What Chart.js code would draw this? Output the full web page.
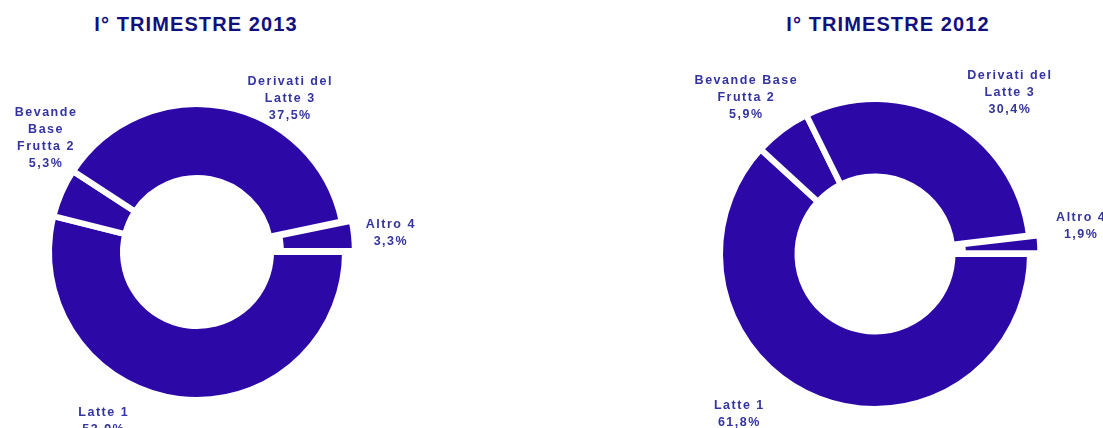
<!DOCTYPE html>
<html lang="it">
<head>
    <meta charset="UTF-8">
    <title>Trimestre 2013 vs 2012</title>
    <script src="https://cdn.jsdelivr.net/npm/chart.js"></script>
    <style>
        body {
            margin: 0;
            width: 1103px;
            height: 428px;
            overflow: hidden;
            background: #ffffff;
            font-family: 'Liberation Sans', Arial, sans-serif;
            position: relative;
        }
        .title {
            position: absolute;
            top: 13px;
            width: 300px;
            text-align: center;
            font-weight: bold;
            font-size: 20px;
            letter-spacing: 1.1px;
            color: #10107e;
        }
        .chart-box { position: absolute; }
    </style>
</head>
<body>
    <div class="title" style="left:46px;">I° TRIMESTRE 2013</div>
    <div class="title" style="left:738px;">I° TRIMESTRE 2012</div>

    <div class="chart-box" style="left:-23px; top:52px;">
        <canvas id="chart2013" width="440" height="400"></canvas>
    </div>
    <div class="chart-box" style="left:645px; top:24px;">
        <canvas id="chart2012" width="460" height="460"></canvas>
    </div>

    <script>
        // Data (percent shares)
        const categories = ['Latte 1', 'Bevande Base Frutta 2', 'Derivati del Latte 3', 'Altro 4'];
        const values2013 = [53.9, 5.3, 37.5, 3.3];
        const values2012 = [61.8, 5.9, 30.4, 1.9];

        // how each label is broken into lines
        const labelLines2013 = [['Latte 1'], ['Bevande', 'Base', 'Frutta 2'], ['Derivati del', 'Latte 3'], ['Altro 4']];
        const labelLines2012 = [['Latte 1'], ['Bevande Base', 'Frutta 2'], ['Derivati del', 'Latte 3'], ['Altro 4']];

        // label anchors, in units of the outer radius from the centre
        const labelPos2013 = [[-0.63, 1.14], [-1.02, -0.77], [0.63, -1.04], [1.31, -0.13]];
        const labelPos2012 = [[-0.875, 1.03], [-0.83, -1.01], [0.87, -1.04], [1.33, -0.18]];

        const SLICE_COLOR = '#2c09a6';
        const LABEL_COLOR = '#3434a0';

        const fmt = v => v.toFixed(1).replace('.', ',') + '%';

        // draws the multi-line data labels around the doughnut
        const outsideLabels = {
            id: 'outsideLabels',
            afterDraw(chart, args, opts) {
                const ctx = chart.ctx;
                const meta = chart.getDatasetMeta(0);
                const arc = meta.data[0];
                const cx = arc.x, cy = arc.y, r = arc.outerRadius;
                const values = chart.data.datasets[0].data;
                ctx.save();
                ctx.font = 'bold 12.5px "Liberation Sans", Arial, sans-serif';
                ctx.letterSpacing = '1.5px';
                ctx.fillStyle = LABEL_COLOR;
                ctx.textAlign = 'center';
                ctx.textBaseline = 'middle';
                const lh = 17;
                values.forEach((v, i) => {
                    const lines = opts.lines[i].concat([fmt(v)]);
                    const px = cx + opts.pos[i][0] * r;
                    const py = cy + opts.pos[i][1] * r;
                    const top = py - (lines.length - 1) * lh / 2;
                    lines.forEach((t, k) => ctx.fillText(t, px, top + k * lh));
                });
                ctx.restore();
            }
        };

        function makeDonut(id, values, radius, lines, pos) {
            return new Chart(document.getElementById(id), {
                type: 'doughnut',
                data: {
                    labels: categories,
                    datasets: [{
                        data: values,
                        backgroundColor: SLICE_COLOR,
                        borderColor: '#ffffff',
                        borderWidth: 6,
                        borderJoinStyle: 'miter',
                        offset: [0, 0, 0, 22],   // "Altro" slice pulled out
                        hoverOffset: 0
                    }]
                },
                options: {
                    responsive: false,
                    animation: false,
                    rotation: 90,
                    cutout: '50%',
                    radius: radius,
                    layout: { padding: 0 },
                    plugins: {
                        legend: { display: false },
                        tooltip: { enabled: false },
                        outsideLabels: { lines: lines, pos: pos }
                    }
                },
                plugins: [outsideLabels]
            });
        }

        makeDonut('chart2013', values2013, 148, labelLines2013, labelPos2013);
        makeDonut('chart2012', values2012, 155, labelLines2012, labelPos2012);
    </script>
</body>
</html>
